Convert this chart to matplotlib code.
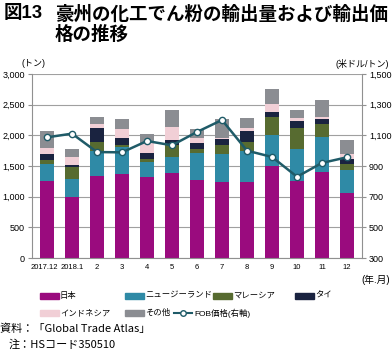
import matplotlib.pyplot as plt
import matplotlib.transforms as mtransforms
import numpy as np
from matplotlib.lines import Line2D
from matplotlib.patches import Rectangle
from matplotlib.ticker import FuncFormatter

plt.rcParams['font.family'] = ['Liberation Sans', 'Noto Sans CJK JP']

# export volume (tonnes) by destination, FOB price (USD/t)
months = ['2017.12', '2018.1', '2', '3', '4', '5', '6', '7', '8', '9', '10', '11', '12']
japan = [1260, 1000, 1330, 1370, 1315, 1380, 1265, 1235, 1245, 1500, 1260, 1410, 1065]
nz = [273, 289, 420, 435, 246, 273, 442, 461, 505, 507, 513, 558, 370]
malaysia = [65, 190, 137, 38, 54, 196, 66, 147, 147, 288, 342, 212, 103]
thai = [93, 33, 228, 120, 92, 76, 102, 93, 180, 92, 125, 87, 77]
indonesia = [98, 141, 65, 140, 163, 207, 85, 27, 49, 125, 38, 28, 76]
other = [277, 120, 115, 159, 152, 282, 139, 304, 152, 240, 136, 282, 229]
fob = [1087, 1111, 991, 989, 1063, 1035, 1122, 1200, 1000, 959, 830, 920, 957]

series = [('日本', japan, '#9a0b7e'),
          ('ニュージーランド', nz, '#2f8aa6'),
          ('マレーシア', malaysia, '#576b30'),
          ('タイ', thai, '#1a2340'),
          ('インドネシア', indonesia, '#f1cfd6'),
          ('その他', other, '#8b8d92')]
line_col = '#1f5b68'

W, H = 392, 351
fig = plt.figure(figsize=(W / 100, H / 100), dpi=100)
ax = fig.add_axes([32 / W, 1 - 258 / H, 330 / W, 184 / H])
x = np.arange(len(months))
bottom = np.zeros(len(months))
for name, vals, col in series:
    ax.bar(x, vals, 0.58, bottom=bottom, color=col, zorder=2)
    bottom += np.array(vals)

ax.set_ylim(0, 3000)
ax.set_xlim(-0.6, len(months) - 0.4)
ax.set_yticks(np.arange(0, 3001, 500))
ax.yaxis.set_major_formatter(FuncFormatter(lambda v, p: f'{int(v):,}'))
ax.grid(axis='y', color='#a0a0a0', lw=0.8, zorder=0)
ax.set_xticks(x)
ax.set_xticklabels(months)
ax.tick_params(axis='x', length=0, labelsize=5.5, pad=4)
ax.tick_params(axis='y', labelsize=6.5, length=3, color='#909090', pad=2)
# nudge the first label left so the two long labels do not touch
lab0 = ax.get_xticklabels()[0]
lab0.set_transform(lab0.get_transform() +
                   mtransforms.ScaledTranslation(-2.5 / 100, 0, fig.dpi_scale_trans))
for s in ['left', 'right', 'bottom']:
    ax.spines[s].set_color('#909090')
ax.spines['top'].set_visible(False)

ax2 = ax.twinx()
ax2.plot(x, fob, color=line_col, lw=1.8, marker='o', ms=4.5,
         mfc='white', mec=line_col, mew=1.0, zorder=5)
ax2.set_ylim(300, 1500)
ax2.set_yticks(np.arange(300, 1501, 200))
ax2.yaxis.set_major_formatter(FuncFormatter(lambda v, p: f'{int(v):,}'))
ax2.tick_params(axis='y', labelsize=6.5, length=3, color='#909090', pad=2)
for s in ['left', 'right', 'bottom', 'top']:
    ax2.spines[s].set_visible(False)

jp = ['Noto Sans CJK JP']
fig.text(0.008, 0.985, '図13', fontsize=13.3, fontweight='bold', va='top')
fig.text(55 / W, 0.985, '豪州の化工でん粉の輸出量および輸出価\n格の推移',
         fontsize=13.3, fontweight='bold', va='top', linespacing=1.03, family=jp)
fig.text(22 / W, 1 - 64 / H, '(トン)', fontsize=6.5, va='center')
fig.text(389 / W, 1 - 64 / H, '(米ドル/トン)', fontsize=6.5, va='center', ha='right')
fig.text(390 / W, 1 - 280 / H, '(年.月)', fontsize=7, va='center', ha='right')

# legend, laid out like the source
pos = [(40, 296), (125, 296), (213, 296), (295, 296), (40, 313), (125, 313)]
for (name, _, col), (px, py) in zip(series, pos):
    fig.patches.append(Rectangle((px / W, 1 - (py + 3) / H), 19 / W, 6 / H,
                                 color=col, transform=fig.transFigure))
    fig.text((px + 20) / W, 1 - py / H, name, fontsize=6, va='center')
fig.add_artist(Line2D([174 / W, 192 / W], [1 - 313 / H] * 2, color=line_col, lw=1.5,
                      transform=fig.transFigure))
fig.add_artist(Line2D([183 / W], [1 - 313 / H], marker='o', ms=4, mfc='white',
                      mec=line_col, transform=fig.transFigure))
fig.text(194 / W, 1 - 313 / H, 'FOB価格(右軸)', fontsize=6, va='center')

fig.text(0.0, 1 - 329 / H, '資料：「Global Trade Atlas」', fontsize=8, va='center', family=jp)
fig.text(9 / W, 1 - 345 / H, '注：HSコード350510', fontsize=8, va='center', family=jp)

fig.savefig('out.png', dpi=100)
